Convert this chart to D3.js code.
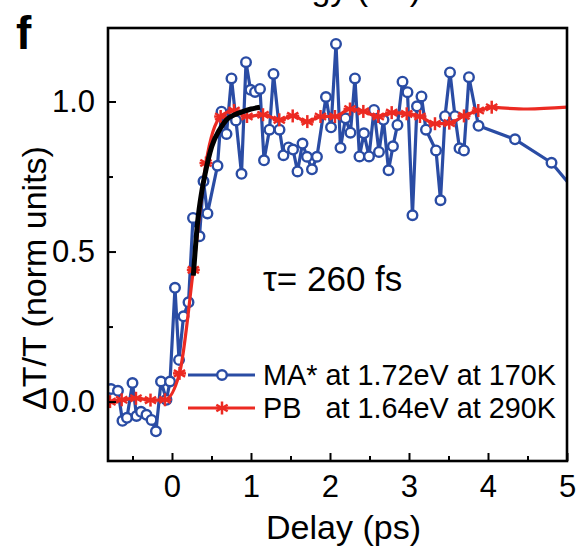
<!DOCTYPE html>
<html><head><meta charset="utf-8">
<script src="https://cdn.jsdelivr.net/npm/d3@7"></script>
<style>body{margin:0;background:#fff}svg{display:block}text{font-family:"Liberation Sans",Arial,sans-serif}</style>
</head><body>
<svg id="c" width="578" height="548"></svg>
<script>
// MA* at 1.72 eV, 170 K (blue, open circles)
const maDelay = [-0.772,-0.684,-0.627,-0.570,-0.500,-0.449,-0.392,-0.323,-0.259,-0.203,-0.139,-0.070,-0.025,
 0.038,0.089,0.146,0.209,0.266,0.348,0.399,0.449,0.576,0.627,0.690,0.753,0.810,0.880,0.937,0.994,1.051,1.114,
 1.165,1.234,1.285,1.361,1.411,1.475,1.532,1.589,1.652,1.709,1.772,1.835,1.949,2.013,2.076,2.133,2.196,2.259,
 2.316,2.373,2.430,2.494,2.557,2.620,2.677,2.741,2.797,2.854,2.918,2.981,3.044,3.101,3.158,3.215,3.342,3.399,
 3.456,3.519,3.582,3.639,3.696,3.759,3.880,4.342,4.804,5.270];
const maValue = [0.042,0.036,-0.064,-0.054,0.062,-0.048,-0.034,-0.044,-0.061,-0.099,0.067,0.006,0.067,
 0.379,0.139,0.284,0.331,0.612,0.551,0.734,0.627,0.786,0.966,0.892,1.077,0.937,0.759,1.131,1.039,1.032,1.042,
 0.804,0.906,1.092,0.906,0.821,0.847,0.840,0.767,0.860,0.816,0.774,0.816,1.015,0.914,1.192,0.846,0.944,0.896,
 1.077,0.817,0.894,0.817,0.972,0.832,0.939,0.771,0.851,0.922,1.066,1.031,0.621,0.984,1.017,0.906,0.837,0.671,
 0.951,1.097,0.951,0.844,0.837,1.081,0.919,0.874,0.796,0.649];
// PB at 1.64 eV, 290 K (red, asterisks)
const pbDelay = [-0.785,-0.637,-0.456,-0.272,-0.089,0.095,0.270,0.430,0.616,0.785,0.949,1.152,1.358,1.528,1.713,
 1.880,2.063,2.253,2.422,2.611,2.781,2.971,3.139,3.329,3.510,3.696,3.877,4.047];
const pbValue = [0.000,0.006,0.011,0.005,0.006,0.094,0.439,0.795,0.950,0.970,0.950,0.956,0.939,0.952,0.933,
 0.950,0.950,0.975,0.967,0.950,0.963,0.959,0.950,0.926,0.928,0.952,0.970,0.981];
const pbTailDelay = [4.047,4.5,5.0];
const pbTailValue = [0.981,0.975,0.981];
// rise fit, tau = 260 fs (black)
const fitDelay = [0.270,0.325,0.377,0.420,0.503,0.600,0.693,0.800,0.903,1.000,1.114];
const fitValue = [0.420,0.600,0.700,0.760,0.850,0.905,0.940,0.957,0.967,0.975,0.981];

const xTicks = [0,1,2,3,4,5];
const xMinor = [-0.5,0.5,1.5,2.5,3.5,4.5];
const yTicks = [0,0.5,1.0];
const yMinor = [0.25,0.75];

const blue = "#2a4ca4", red = "#ec2a22";
const svg = d3.select("#c");
const L=108,R=567,T=28,B=461;
const x = d3.scaleLinear().domain([-0.81,5]).range([L,R]);
const y = d3.scaleLinear().domain([-0.198,1.245]).range([B,T]);

svg.append("clipPath").attr("id","clip").append("rect").attr("x",L).attr("y",T).attr("width",R-L).attr("height",B-T);

// cropped title from the panel above
svg.append("text").attr("x",421).attr("y",0).attr("text-anchor","end").attr("font-size",34).text("Energy (eV)");
svg.append("text").attr("x",16).attr("y",49).attr("font-size",46).attr("font-weight","bold").text("f");

const g = svg.append("g").attr("clip-path","url(#clip)");
const line = d3.line().x(d=>x(d[0])).y(d=>y(d[1]));
const ma = maDelay.map((d,i)=>[d,maValue[i]]);
const pb = pbDelay.map((d,i)=>[d,pbValue[i]]);
const pbTail = pbTailDelay.map((d,i)=>[d,pbTailValue[i]]);
const fit = fitDelay.map((d,i)=>[d,fitValue[i]]);

g.append("path").attr("d",line(ma)).attr("fill","none").attr("stroke",blue).attr("stroke-width",3.2).attr("stroke-linejoin","round");
g.selectAll("circle.ma").data(ma).join("circle").attr("cx",d=>x(d[0])).attr("cy",d=>y(d[1])).attr("r",4.8)
 .attr("fill","#fff").attr("stroke",blue).attr("stroke-width",2.4);

const pl = d3.line().x(d=>x(d[0])).y(d=>y(d[1])).curve(d3.curveMonotoneX);
g.append("path").attr("d",pl(pb)).attr("fill","none").attr("stroke",red).attr("stroke-width",3.2).attr("stroke-linejoin","round");
g.append("path").attr("d",pl(pbTail)).attr("fill","none").attr("stroke",red).attr("stroke-width",3.2);

function asterisk(sel,cx,cy,s){
  [90,30,150].forEach(deg=>{const r=deg*Math.PI/180;
    sel.append("line").attr("x1",cx-s*Math.cos(r)).attr("y1",cy-s*Math.sin(r)).attr("x2",cx+s*Math.cos(r)).attr("y2",cy+s*Math.sin(r))
    .attr("stroke",red).attr("stroke-width",2.5);});
  sel.append("line").attr("x1",cx-s).attr("y1",cy).attr("x2",cx+s).attr("y2",cy).attr("stroke",red).attr("stroke-width",2.5);
}
pb.forEach(d=>asterisk(g,x(d[0]),y(d[1]),6.5));

g.append("path").attr("d",pl(fit)).attr("fill","none").attr("stroke","#000").attr("stroke-width",5).attr("stroke-linecap","butt");

// frame
svg.append("rect").attr("x",L).attr("y",T).attr("width",R-L).attr("height",B-T).attr("fill","none").attr("stroke","#000").attr("stroke-width",2.6);

// axes
const xa = svg.append("g").attr("transform",`translate(0,${B})`)
  .call(d3.axisBottom(x).tickValues(xTicks).tickSize(-8).tickPadding(14).tickFormat(d3.format("d")));
xa.select(".domain").remove();
xa.selectAll(".tick line").attr("stroke-width",2);
xa.selectAll("text").attr("font-size",31).attr("fill","#000").attr("font-family","Liberation Sans, Arial, sans-serif");
const xm = svg.append("g").attr("transform",`translate(0,${B})`).call(d3.axisBottom(x).tickValues(xMinor).tickSize(-5).tickFormat(""));
xm.select(".domain").remove(); xm.selectAll(".tick line").attr("stroke-width",2);

const ya = svg.append("g").attr("transform",`translate(${L},0)`)
  .call(d3.axisLeft(y).tickValues(yTicks).tickSize(-8).tickPadding(13).tickFormat(d3.format(".1f")));
ya.select(".domain").remove();
ya.selectAll(".tick line").attr("stroke-width",2);
ya.selectAll("text").attr("font-size",31).attr("fill","#000").attr("font-family","Liberation Sans, Arial, sans-serif");
const ym = svg.append("g").attr("transform",`translate(${L},0)`).call(d3.axisLeft(y).tickValues(yMinor).tickSize(-5).tickFormat(""));
ym.select(".domain").remove(); ym.selectAll(".tick line").attr("stroke-width",2);

svg.append("text").attr("x",(L+R)/2+6).attr("y",539).attr("text-anchor","middle").attr("font-size",34).text("Delay (ps)");
svg.append("text").attr("transform","translate(46,278) rotate(-90)").attr("text-anchor","middle").attr("font-size",34).text("ΔT/T (norm units)");

svg.append("text").attr("x",263).attr("y",291).attr("font-size",35).text("τ= 260 fs");

// legend
const lg = svg.append("g");
lg.append("line").attr("x1",188).attr("x2",255).attr("y1",375).attr("y2",375).attr("stroke",blue).attr("stroke-width",3);
lg.append("circle").attr("cx",222).attr("cy",375).attr("r",4.8).attr("fill","#fff").attr("stroke",blue).attr("stroke-width",2.4);
lg.append("text").attr("x",263).attr("y",385).attr("font-size",28.8).text("MA* at 1.72eV at 170K");
lg.append("line").attr("x1",188).attr("x2",255).attr("y1",408).attr("y2",408).attr("stroke",red).attr("stroke-width",3);
asterisk(lg,222,408,6.5);
lg.append("text").attr("x",263).attr("y",418).attr("font-size",28.8).attr("xml:space","preserve").style("white-space","pre").text("PB   at 1.64eV at 290K");
</script>
</body></html>
